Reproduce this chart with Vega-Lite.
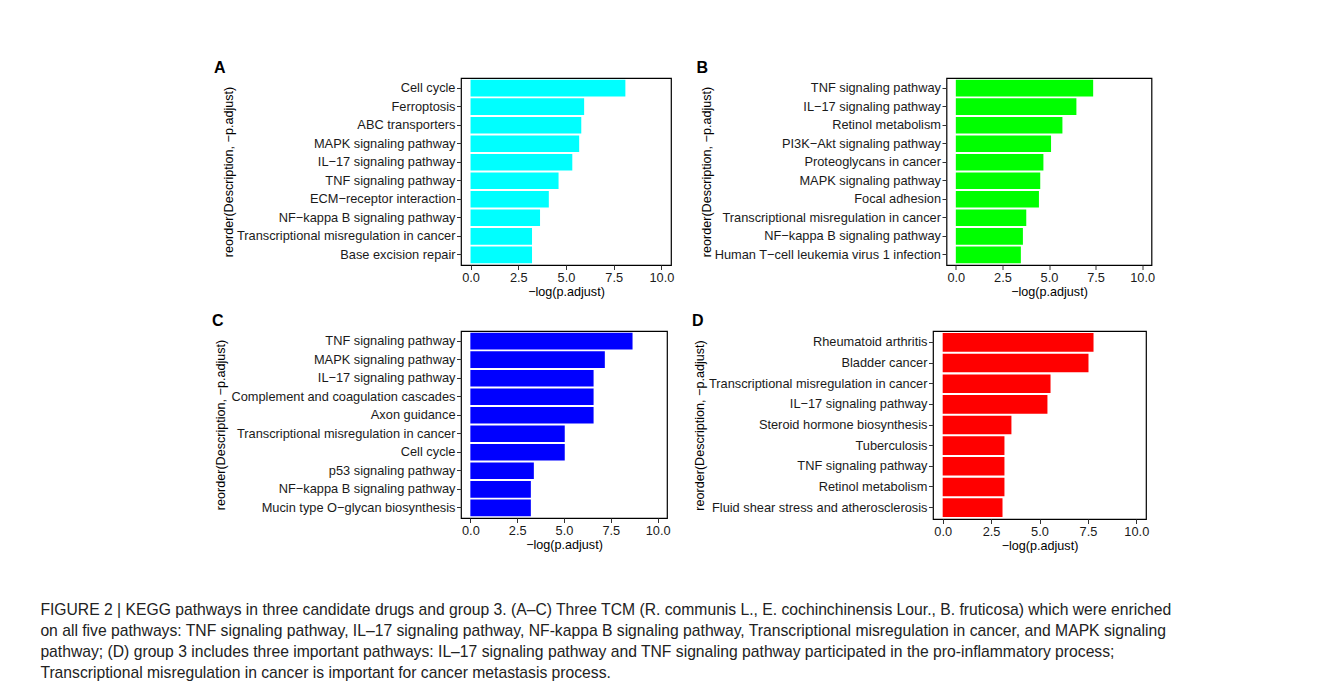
{
  "$schema": "https://vega.github.io/schema/vega-lite/v6.json",
  "background": "white",
  "padding": {"left": 40, "top": 59, "right": 5, "bottom": 5},
  "title": {
    "text": [
      "FIGURE 2 | KEGG pathways in three candidate drugs and group 3. (A–C) Three TCM (R. communis L., E. cochinchinensis Lour., B. fruticosa) which were enriched",
      "on all five pathways: TNF signaling pathway, IL–17 signaling pathway, NF-kappa B signaling pathway, Transcriptional misregulation in cancer, and MAPK signaling",
      "pathway; (D) group 3 includes three important pathways: IL–17 signaling pathway and TNF signaling pathway participated in the pro-inflammatory process;",
      "Transcriptional misregulation in cancer is important for cancer metastasis process."
    ],
    "orient": "bottom",
    "anchor": "start",
    "frame": "bounds",
    "dx": -171,
    "offset": 50,
    "font": "Liberation Sans",
    "fontSize": 15.7,
    "fontWeight": "normal",
    "lineHeight": 21,
    "color": "#222222"
  },
  "spacing": 13,
  "vconcat": [
    {
      "spacing": 20.5,
      "hconcat": [
        {
          "title": {"text": "A", "dx": -247},
          "width": 210,
          "height": 187,
          "data": {"values": [
            {"Description": "Cell cycle", "value": 8.11},
            {"Description": "Ferroptosis", "value": 5.95},
            {"Description": "ABC transporters", "value": 5.80},
            {"Description": "MAPK signaling pathway", "value": 5.69},
            {"Description": "IL−17 signaling pathway", "value": 5.33},
            {"Description": "TNF signaling pathway", "value": 4.61},
            {"Description": "ECM−receptor interaction", "value": 4.10},
            {"Description": "NF−kappa B signaling pathway", "value": 3.64},
            {"Description": "Transcriptional misregulation in cancer", "value": 3.22},
            {"Description": "Base excision repair", "value": 3.22}
          ]},
          "mark": {"type": "bar", "color": "#00FFFF"},
          "encoding": {
            "y": {"field": "Description", "type": "nominal", "sort": null, "scale": {"paddingInner": 0.1, "paddingOuter": 0.1}, "axis": {"title": "reorder(Description, −p.adjust)", "titleX": -226}},
            "x": {"field": "value", "type": "quantitative", "scale": {"domain": [-0.5, 10.5], "nice": false, "zero": false}, "axis": {"values": [0, 2.5, 5, 7.5, 10], "format": ".1f", "title": "−log(p.adjust)"}}
          }
        },
        {
          "title": {"text": "B", "dx": -250},
          "width": 205,
          "height": 187,
          "data": {"values": [
            {"Description": "TNF signaling pathway", "value": 7.37},
            {"Description": "IL−17 signaling pathway", "value": 6.47},
            {"Description": "Retinol metabolism", "value": 5.72},
            {"Description": "PI3K−Akt signaling pathway", "value": 5.11},
            {"Description": "Proteoglycans in cancer", "value": 4.70},
            {"Description": "MAPK signaling pathway", "value": 4.53},
            {"Description": "Focal adhesion", "value": 4.46},
            {"Description": "Transcriptional misregulation in cancer", "value": 3.78},
            {"Description": "NF−kappa B signaling pathway", "value": 3.60},
            {"Description": "Human T−cell leukemia virus 1 infection", "value": 3.49}
          ]},
          "mark": {"type": "bar", "color": "#00FF00"},
          "encoding": {
            "y": {"field": "Description", "type": "nominal", "sort": null, "scale": {"paddingInner": 0.1, "paddingOuter": 0.1}, "axis": {"title": "reorder(Description, −p.adjust)", "titleX": -233.5}},
            "x": {"field": "value", "type": "quantitative", "scale": {"domain": [-0.5, 10.5], "nice": false, "zero": false}, "axis": {"values": [0, 2.5, 5, 7.5, 10], "format": ".1f", "title": "−log(p.adjust)"}}
          }
        }
      ]
    },
    {
      "spacing": 20,
      "hconcat": [
        {
          "title": {"text": "C", "dx": -249},
          "width": 206,
          "height": 187,
          "data": {"values": [
            {"Description": "TNF signaling pathway", "value": 8.66},
            {"Description": "MAPK signaling pathway", "value": 7.18},
            {"Description": "IL−17 signaling pathway", "value": 6.58},
            {"Description": "Complement and coagulation cascades", "value": 6.58},
            {"Description": "Axon guidance", "value": 6.58},
            {"Description": "Transcriptional misregulation in cancer", "value": 5.04},
            {"Description": "Cell cycle", "value": 5.04},
            {"Description": "p53 signaling pathway", "value": 3.39},
            {"Description": "NF−kappa B signaling pathway", "value": 3.23},
            {"Description": "Mucin type O−glycan biosynthesis", "value": 3.23}
          ]},
          "mark": {"type": "bar", "color": "#0000FF"},
          "encoding": {
            "y": {"field": "Description", "type": "nominal", "sort": null, "scale": {"paddingInner": 0.1, "paddingOuter": 0.1}, "axis": {"title": "reorder(Description, −p.adjust)", "titleX": -233.5}},
            "x": {"field": "value", "type": "quantitative", "scale": {"domain": [-0.5, 10.5], "nice": false, "zero": false}, "axis": {"values": [0, 2.5, 5, 7.5, 10], "format": ".1f", "title": "−log(p.adjust)"}}
          }
        },
        {
          "title": {"text": "D", "dx": -241},
          "width": 213,
          "height": 188,
          "data": {"values": [
            {"Description": "Rheumatoid arthritis", "value": 7.79},
            {"Description": "Bladder cancer", "value": 7.53},
            {"Description": "Transcriptional misregulation in cancer", "value": 5.57},
            {"Description": "IL−17 signaling pathway", "value": 5.41},
            {"Description": "Steroid hormone biosynthesis", "value": 3.55},
            {"Description": "Tuberculosis", "value": 3.19},
            {"Description": "TNF signaling pathway", "value": 3.19},
            {"Description": "Retinol metabolism", "value": 3.19},
            {"Description": "Fluid shear stress and atherosclerosis", "value": 3.09}
          ]},
          "mark": {"type": "bar", "color": "#FF0000"},
          "encoding": {
            "y": {"field": "Description", "type": "nominal", "sort": null, "scale": {"paddingInner": 0.1, "paddingOuter": 0.1}, "axis": {"title": "reorder(Description, −p.adjust)", "titleX": -226.5}},
            "x": {"field": "value", "type": "quantitative", "scale": {"domain": [-0.5, 10.5], "nice": false, "zero": false}, "axis": {"values": [0, 2.5, 5, 7.5, 10], "format": ".1f", "title": "−log(p.adjust)"}}
          }
        }
      ]
    }
  ],
  "config": {
    "font": "Liberation Sans",
    "view": {"stroke": "#000000", "strokeWidth": 1.2},
    "title": {"fontSize": 16, "fontWeight": "bold", "anchor": "start", "frame": "group", "offset": 2, "color": "#000000", "font": "Liberation Sans"},
    "axis": {
      "domain": false,
      "grid": false,
      "ticks": true,
      "tickColor": "#333333",
      "tickSize": 4.5,
      "labelPadding": 1.5,
      "labelFont": "Liberation Sans",
      "labelFontSize": 12.8,
      "labelColor": "#1a1a1a",
      "labelLimit": 400,
      "titleFont": "Liberation Sans",
      "titleFontSize": 12.6,
      "titleFontWeight": "normal",
      "titleColor": "#000000",
      "titlePadding": 2
    }
  }
}
